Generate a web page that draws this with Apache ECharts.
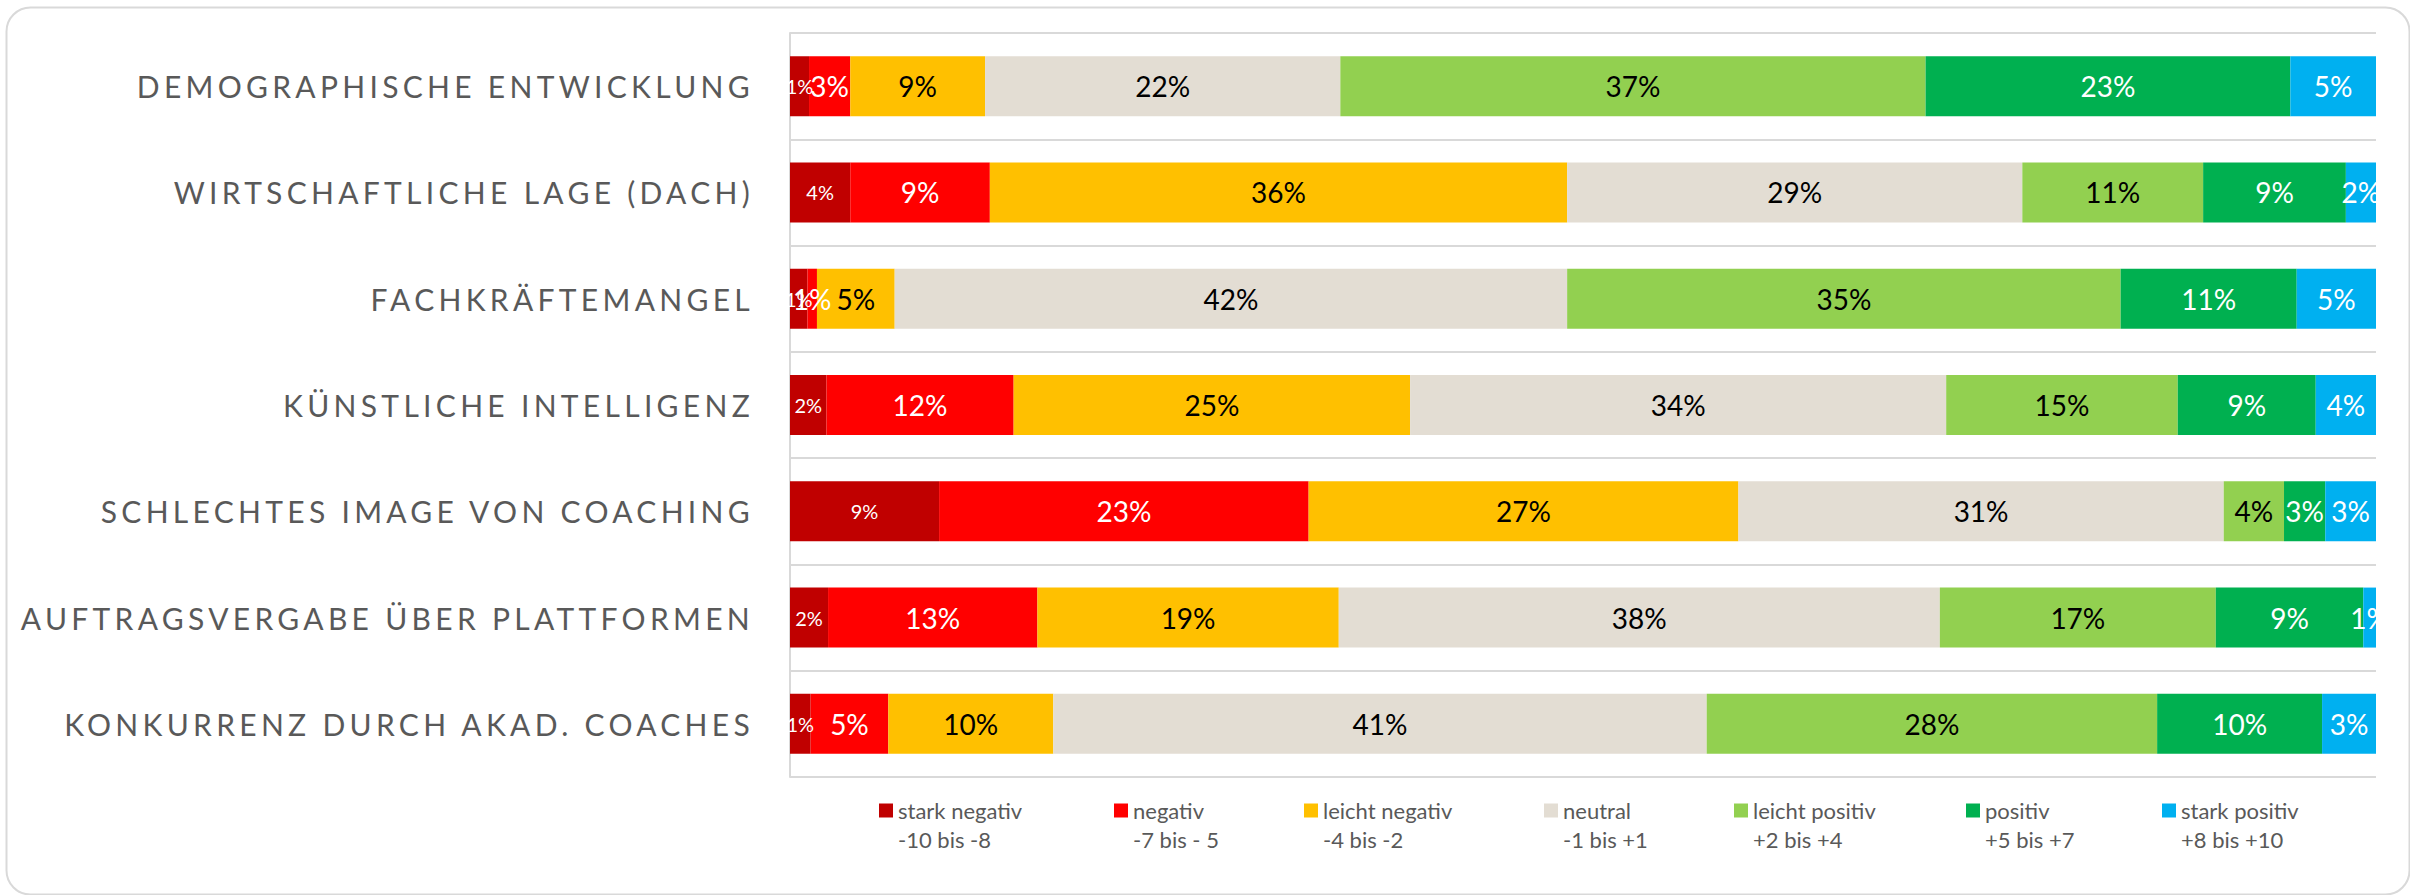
<!DOCTYPE html>
<html>
<head>
<meta charset="utf-8">
<title>Einflussfaktoren</title>
<script src="https://cdn.jsdelivr.net/npm/echarts@6/dist/echarts.min.js"></script>
<style>
html, body { margin: 0; padding: 0; background: #fff; }
#chart { width: 2410px; height: 895px; }
/* Sperrung der Kategorien wie im Excel-Original (nur rechtsbündige Achsentexte) */
#chart text[text-anchor="end"] { letter-spacing: 4.3px; }
</style>
</head>
<body>
<div id="chart"></div>
<script>
// Kategorien (von oben nach unten)
var categories = [
    'DEMOGRAPHISCHE ENTWICKLUNG',
    'WIRTSCHAFTLICHE LAGE (DACH)',
    'FACHKRÄFTEMANGEL',
    'KÜNSTLICHE INTELLIGENZ',
    'SCHLECHTES IMAGE VON COACHING',
    'AUFTRAGSVERGABE ÜBER PLATTFORMEN',
    'KONKURRENZ DURCH AKAD. COACHES'
];

var seriesNames = ['stark negativ', 'negativ', 'leicht negativ', 'neutral', 'leicht positiv', 'positiv', 'stark positiv'];
var ranges = ['-10 bis -8', '-7 bis - 5', '-4 bis -2', '-1 bis +1', '+2 bis +4', '+5 bis +7', '+8 bis +10'];

// Anteile in %
var starkNegativ  = [1.2, 3.8, 1.1, 2.3, 9.4, 2.4, 1.3];
var negativ       = [2.6, 8.8, 0.6, 11.8, 23.3, 13.2, 4.9];
var leichtNegativ = [8.5, 36.4, 4.9, 25.0, 27.1, 19.0, 10.4];
var neutral       = [22.4, 28.7, 42.4, 33.8, 30.6, 37.9, 41.2];
var leichtPositiv = [36.9, 11.4, 34.9, 14.6, 3.8, 17.4, 28.4];
var positiv       = [23.0, 9.0, 11.1, 8.7, 2.6, 9.3, 10.4];
var starkPositiv  = [5.4, 1.9, 5.0, 3.8, 3.2, 0.8, 3.4];

var values = [starkNegativ, negativ, leichtNegativ, neutral, leichtPositiv, positiv, starkPositiv];
var colors = ['#C00000', '#FF0000', '#FFC000', '#E3DDD3', '#92D050', '#00B050', '#00B0F0'];
var labelColors = ['#fff', '#fff', '#000', '#000', '#000', '#fff', '#fff'];
var legendLeft = [874, 1109, 1299, 1539, 1729, 1961, 2157];

var font = 'Lato';

var series = [];
var legends = [];
for (var i = 0; i < seriesNames.length; i++) {
    series.push({
        name: seriesNames[i],
        type: 'bar',
        stack: 'total',
        barWidth: 60,
        itemStyle: { color: colors[i] },
        label: {
            show: true,
            position: 'inside',
            color: labelColors[i],
            fontFamily: font,
            fontSize: i === 0 ? 20 : 28,
            formatter: function (p) {
                return Math.round(p.value) + '%';
            }
        },
        data: values[i]
    });
    legends.push({
        data: [seriesNames[i]],
        left: legendLeft[i],
        top: 791,
        // Quadrat oben, damit es auf Höhe der ersten Textzeile sitzt
        icon: 'path://M0,0L14,0L14,14L0,14Z M0,43',
        itemWidth: 14,
        itemHeight: 43,
        selectedMode: false,
        formatter: (function (k) {
            return function (name) { return name + '\n' + ranges[k]; };
        })(i),
        textStyle: {
            fontFamily: font,
            fontSize: 22,
            lineHeight: 29,
            color: '#595959'
        }
    });
}

var chart = echarts.init(document.getElementById('chart'), null, { renderer: 'svg' });
chart.setOption({
    backgroundColor: '#fff',
    animation: false,
    graphic: [{
        type: 'rect',
        left: 4,
        top: 5,
        z: -1,
        silent: true,
        shape: { width: 2403, height: 887, r: 24 },
        style: { fill: 'none', stroke: '#D9D9D9', lineWidth: 2 }
    }],
    legend: legends,
    grid: {
        left: 790,
        right: 34,
        top: 33,
        height: 744
    },
    xAxis: {
        type: 'value',
        min: 0,
        max: 100,
        show: false
    },
    yAxis: {
        type: 'category',
        inverse: true,
        data: categories,
        axisLine: { show: true, lineStyle: { color: '#D9D9D9', width: 2 } },
        axisTick: { show: false },
        splitLine: { show: true, lineStyle: { color: '#D9D9D9', width: 2 } },
        axisLabel: {
            margin: 36,
            fontFamily: font,
            fontSize: 30,
            color: '#595959'
        }
    },
    series: series
});
</script>
</body>
</html>
